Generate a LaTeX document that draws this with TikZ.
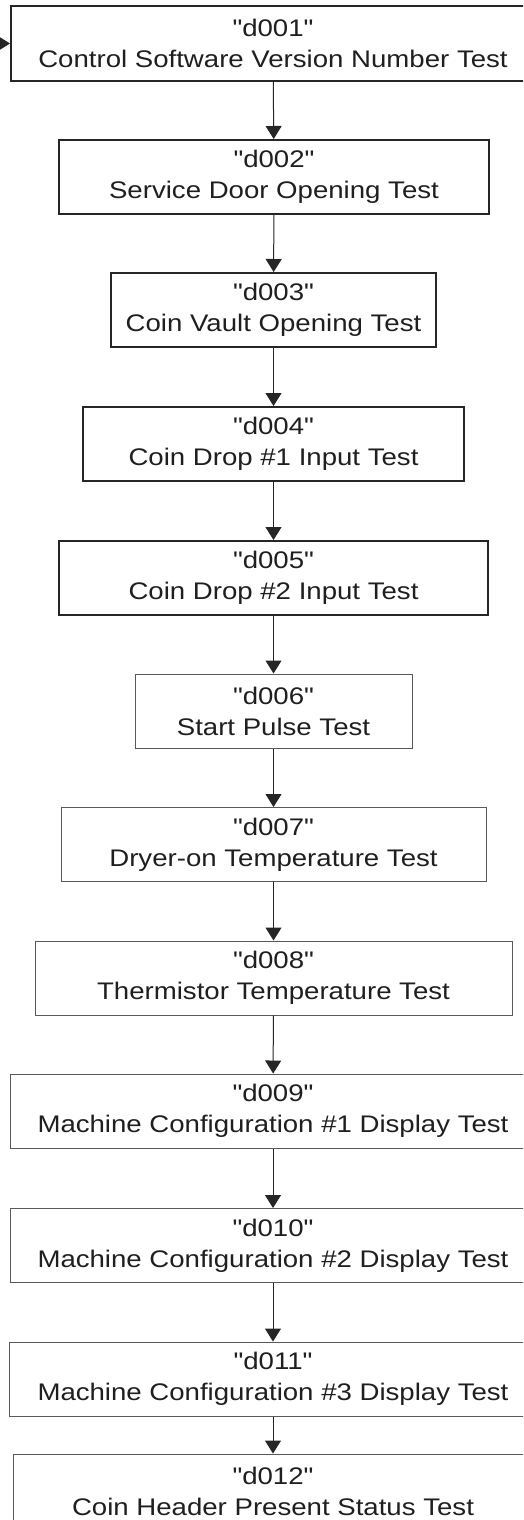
\documentclass[tikz,border=0pt]{standalone}
\usepackage{fontspec}
\newfontfamily\boxfont{Liberation Sans}[FakeStretch=1.15]
\usepackage{tikz}
\usetikzlibrary{arrows.meta}

\tikzset{
  testbox/.style={draw=black!85, fill=white, align=center, inner sep=0pt,
    minimum height=74pt, text=black!88, font=\boxfont\fontsize{24}{31}\selectfont},
  heavybox/.style={testbox, line width=2pt},
  lightbox/.style={testbox, line width=1pt, draw=black!65},
  flow/.style={-{Triangle[width=16pt,length=13pt]}, line width=1pt, black!85}
}

\begin{document}
\begin{tikzpicture}[x=1pt, y=-1pt]
\useasboundingbox (0,0) rectangle (523,1520);
\clip (0,0) rectangle (523,1520);

\node[heavybox, minimum width=524pt] (d001) at (273,43.5)
  {"d001"\\Control Software Version Number Test};
\node[heavybox, minimum width=430pt] (d002) at (274,177)
  {"d002"\\Service Door Opening Test};
\node[heavybox, minimum width=325pt] (d003) at (273.5,310)
  {"d003"\\Coin Vault Opening Test};
\node[heavybox, minimum width=381pt] (d004) at (273.5,444)
  {"d004"\\Coin Drop \#1 Input Test};
\node[heavybox, minimum width=429pt] (d005) at (273.5,578)
  {"d005"\\Coin Drop \#2 Input Test};
\node[lightbox, minimum width=277pt] (d006) at (273.5,711)
  {"d006"\\Start Pulse Test};
\node[lightbox, minimum width=425pt] (d007) at (273.5,844.5)
  {"d007"\\Dryer-on Temperature Test};
\node[lightbox, minimum width=477pt] (d008) at (273.5,978)
  {"d008"\\Thermistor Temperature Test};
\node[lightbox, minimum width=526pt] (d009) at (273,1111)
  {"d009"\\Machine Configuration \#1 Display Test};
\node[lightbox, minimum width=526pt] (d010) at (273,1245.5)
  {"d010"\\Machine Configuration \#2 Display Test};
\node[lightbox, minimum width=528pt] (d011) at (273,1379)
  {"d011"\\Machine Configuration \#3 Display Test};
\node[lightbox, minimum width=520pt] (d012) at (273,1491)
  {"d012"\\Coin Header Present Status Test};

% entry from the left
\coordinate (entry) at (-30,43.5);
\draw[flow] (entry) -- (d001.west);

% main chain
\foreach \a/\b in {d001/d002, d002/d003, d003/d004, d004/d005, d005/d006,
  d006/d007, d007/d008, d008/d009, d009/d010, d010/d011, d011/d012}
  \draw[flow] (\a) -- (\b);

\end{tikzpicture}
\end{document}
